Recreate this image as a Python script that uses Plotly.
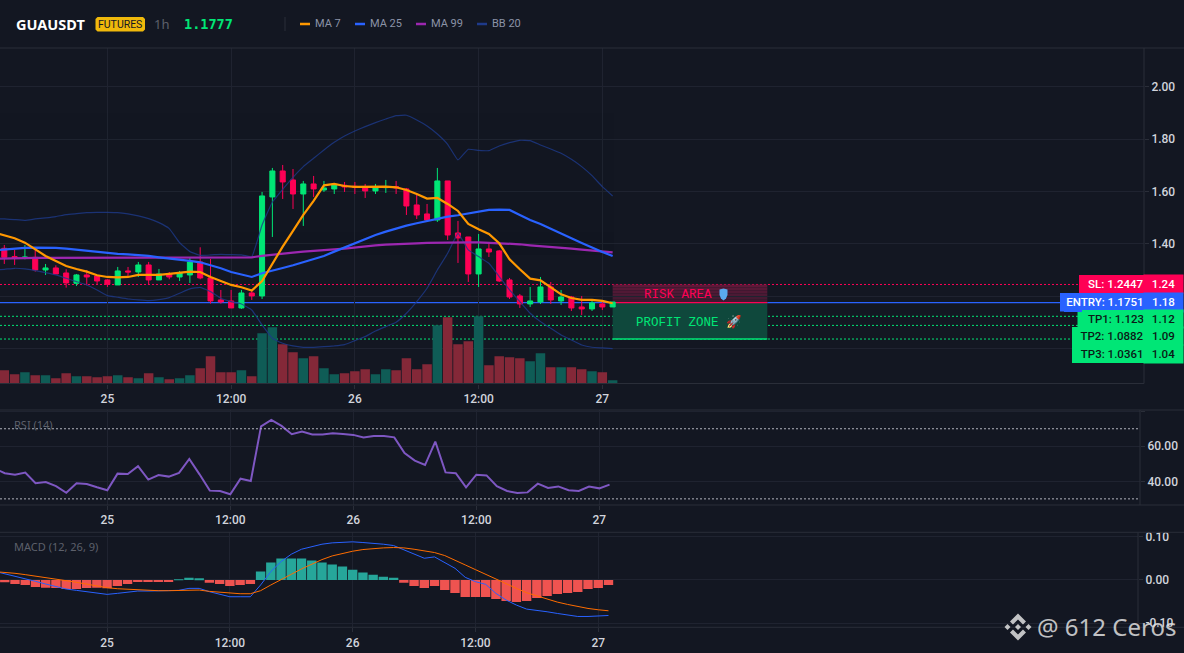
import pandas as pd
import plotly.graph_objects as go

W, H = 1184, 653

# hourly candles, the first time stamp sits just off the left edge (lines only)
times = pd.date_range("2025-06-24 13:00", periods=61, freq="h")
candle_times = times[1:]

opens = [1.3830, 1.3512, 1.3448, 1.3486, 1.3002, 1.3079, 1.2887, 1.2492, 1.2811, 1.2773,
         1.2620, 1.2429, 1.2964, 1.2925, 1.3193, 1.2620, 1.2849, 1.2734, 1.2811, 1.3308,
         1.2696, 1.1855, 1.1817, 1.1549, 1.2122, 1.2008, 1.5794, 1.6788, 1.6444, 1.5908,
         1.6291, 1.6061, 1.6100, 1.6240, 1.6202, 1.6176, 1.6023, 1.6151, 1.6189, 1.6100,
         1.5488, 1.5144, 1.4914, 1.6406, 1.4417, 1.4264, 1.2849, 1.3805, 1.3729, 1.2620,
         1.2008, 1.1702, 1.1778, 1.2352, 1.1817, 1.1969, 1.1587, 1.1511, 1.1702, 1.1587]
highs = [1.3958, 1.3767, 1.3958, 1.3767, 1.3231, 1.3180, 1.3028, 1.2849, 1.3002, 1.2811,
         1.2645, 1.3117, 1.3117, 1.3308, 1.3308, 1.3040, 1.2925, 1.2964, 1.3461, 1.3869,
         1.3423, 1.2237, 1.2237, 1.2237, 1.2237, 1.5985, 1.6903, 1.7017, 1.6864, 1.6406,
         1.6597, 1.6406, 1.6291, 1.6367, 1.6367, 1.6291, 1.6291, 1.6444, 1.6406, 1.6138,
         1.5870, 1.5526, 1.6903, 1.6406, 1.4876, 1.4264, 1.4379, 1.3996, 1.3767, 1.2696,
         1.2084, 1.2352, 1.2734, 1.2543, 1.2237, 1.2008, 1.2008, 1.1817, 1.1817, 1.1778]
lows = [1.3231, 1.3193, 1.3410, 1.2938, 1.2811, 1.2849, 1.2326, 1.2390, 1.2416, 1.2467,
        1.2352, 1.2429, 1.2773, 1.2734, 1.2454, 1.2620, 1.2645, 1.2581, 1.2505, 1.2645,
        1.1715, 1.1715, 1.1549, 1.1511, 1.1855, 1.1893, 1.4264, 1.5717, 1.5335, 1.4685,
        1.5794, 1.5985, 1.5908, 1.5985, 1.5908, 1.5755, 1.5908, 1.5947, 1.5908, 1.5105,
        1.4952, 1.4838, 1.4838, 1.4149, 1.3270, 1.2543, 1.2352, 1.3499, 1.2543, 1.1893,
        1.1549, 1.1587, 1.1702, 1.1702, 1.1664, 1.1434, 1.1281, 1.1434, 1.1472, 1.1587]
closes = [1.3486, 1.3461, 1.3499, 1.3002, 1.3079, 1.2849, 1.2505, 1.2811, 1.2734, 1.2581,
          1.2454, 1.2964, 1.2925, 1.3193, 1.2620, 1.2849, 1.2734, 1.2887, 1.3308, 1.2696,
          1.1817, 1.1778, 1.1549, 1.2122, 1.2008, 1.5832, 1.6788, 1.6367, 1.5908, 1.6291,
          1.6100, 1.6138, 1.6253, 1.6176, 1.6163, 1.6023, 1.6138, 1.6189, 1.6138, 1.5449,
          1.5105, 1.4914, 1.6406, 1.4340, 1.4226, 1.2849, 1.3805, 1.3690, 1.2581, 1.1969,
          1.1702, 1.1817, 1.2352, 1.1855, 1.1969, 1.1549, 1.1511, 1.1740, 1.1587, 1.1777]
volumes = [40, 28, 34, 25, 25, 16, 31, 22, 22, 19, 22, 25, 19, 16, 31, 19, 13, 16, 25, 46,
           82, 34, 34, 40, 22, 151, 169, 118, 94, 76, 82, 46, 28, 31, 37, 43, 28, 43, 40, 76,
           43, 58, 175, 199, 118, 127, 202, 55, 82, 79, 76, 67, 91, 49, 49, 49, 43, 37, 34, 10]

ma7 = [1.4443, 1.4341, 1.4213, 1.4047, 1.3805, 1.3538, 1.3346, 1.3155, 1.3040, 1.2938, 1.2798,
       1.2734, 1.2722, 1.2734, 1.2811, 1.2811, 1.2811, 1.2849, 1.2887, 1.2938, 1.2925,
       1.2734, 1.2581, 1.2429, 1.2339, 1.2212, 1.2581, 1.3257, 1.3894, 1.4493, 1.5105,
       1.5641, 1.6240, 1.6291, 1.6214, 1.6176, 1.6189, 1.6189, 1.6189, 1.6163, 1.6061,
       1.5908, 1.5730, 1.5755, 1.5526, 1.5258, 1.4761, 1.4557, 1.4379, 1.4022, 1.3410,
       1.3028, 1.2671, 1.2607, 1.2339, 1.2071, 1.1931, 1.1855, 1.1855, 1.1817, 1.1727]
ma25 = [1.3754, 1.3792, 1.3818, 1.3843, 1.3856, 1.3856, 1.3843, 1.3818, 1.3780, 1.3741, 1.3690,
        1.3639, 1.3614, 1.3601, 1.3576, 1.3538, 1.3486, 1.3448, 1.3397, 1.3346, 1.3295,
        1.3193, 1.3066, 1.2925, 1.2836, 1.2734, 1.2875, 1.2989, 1.3079, 1.3180, 1.3295,
        1.3410, 1.3538, 1.3703, 1.3869, 1.4035, 1.4188, 1.4341, 1.4468, 1.4595, 1.4698,
        1.4787, 1.4876, 1.4978, 1.5042, 1.5093, 1.5169, 1.5233, 1.5297, 1.5309, 1.5297,
        1.5105, 1.4914, 1.4761, 1.4570, 1.4404, 1.4213, 1.4035, 1.3856, 1.3690, 1.3538]
ma99 = [1.3435, 1.3448, 1.3448, 1.3461, 1.3461, 1.3461, 1.3461, 1.3461, 1.3461, 1.3461, 1.3461,
        1.3461, 1.3461, 1.3461, 1.3461, 1.3461, 1.3461, 1.3473, 1.3473, 1.3473, 1.3473,
        1.3486, 1.3486, 1.3486, 1.3486, 1.3486, 1.3538, 1.3589, 1.3627, 1.3665, 1.3703,
        1.3741, 1.3754, 1.3792, 1.3818, 1.3869, 1.3907, 1.3945, 1.3971, 1.3996, 1.4009,
        1.4022, 1.4035, 1.4047, 1.4060, 1.4060, 1.4060, 1.4060, 1.4047, 1.4035, 1.4009,
        1.3984, 1.3945, 1.3920, 1.3881, 1.3856, 1.3818, 1.3780, 1.3754, 1.3716, 1.3678]
bb_upper = [1.4965, 1.4952, 1.4927, 1.4901, 1.4952, 1.4991, 1.5042, 1.5118, 1.5156, 1.5195, 1.5207,
            1.5207, 1.5195, 1.5144, 1.5067, 1.4965, 1.4812, 1.4583, 1.4047, 1.3703, 1.3563,
            1.3576, 1.3601, 1.3589, 1.3576, 1.3512, 1.4723, 1.5600, 1.6087, 1.6546, 1.6954,
            1.7272, 1.7591, 1.7884, 1.8126, 1.8318, 1.8483, 1.8636, 1.8776, 1.8904, 1.8917,
            1.8738, 1.8509, 1.8203, 1.7808, 1.7209, 1.7616, 1.7578, 1.7565, 1.7744, 1.7871,
            1.7961, 1.7948, 1.7782, 1.7629, 1.7464, 1.7234, 1.6954, 1.6609, 1.6189, 1.5832]
bb_lower = [1.3002, 1.3028, 1.3066, 1.3040, 1.2977, 1.2900, 1.2811, 1.2683, 1.2556, 1.2429, 1.2237,
            1.2021, 1.1957, 1.1893, 1.1855, 1.1829, 1.1868, 1.1944, 1.2110, 1.2276, 1.2339,
            1.2174, 1.1919, 1.1791, 1.1702, 1.1472, 1.0899, 1.0389, 1.0198, 1.0096, 1.0045,
            1.0045, 1.0070, 1.0096, 1.0147, 1.0300, 1.0453, 1.0670, 1.0835, 1.1001, 1.1345,
            1.1791, 1.2301, 1.3002, 1.3639, 1.4404, 1.3767, 1.3512, 1.3257, 1.2747, 1.2237,
            1.1791, 1.1345, 1.1026, 1.0771, 1.0516, 1.0325, 1.0134, 1.0045, 1.0019, 0.9994]

rsi = [47.4, 44.6, 43.8, 45.0, 38.9, 39.6, 37.3, 33.5, 38.9, 38.5, 36.6,
       34.9, 44.4, 44.2, 48.6, 41.0, 43.6, 42.7, 44.8, 52.8, 44.0,
       34.7, 34.5, 32.6, 41.5, 40.2, 71.4, 75.0, 71.6, 66.9, 68.4,
       66.7, 66.7, 67.4, 67.0, 66.5, 65.0, 65.9, 65.9, 65.1, 56.2,
       51.8, 49.3, 62.7, 45.1, 44.6, 36.6, 43.8, 43.4, 37.3, 34.5,
       33.3, 33.7, 38.7, 36.2, 37.1, 34.9, 34.5, 37.0, 36.0, 38.1]

macd = [0.0202, 0.0147, 0.0078, 0.0031, -0.0031, -0.0093, -0.0147, -0.0209, -0.0240, -0.0271, -0.0302,
        -0.0333, -0.0310, -0.0279, -0.0256, -0.0256, -0.0256, -0.0256, -0.0240, -0.0194, -0.0194,
        -0.0271, -0.0333, -0.0388, -0.0388, -0.0388, -0.0116, 0.0194, 0.0426, 0.0597, 0.0713,
        0.0775, 0.0829, 0.0860, 0.0876, 0.0884, 0.0868, 0.0853, 0.0829, 0.0798, 0.0698,
        0.0597, 0.0504, 0.0535, 0.0403, 0.0271, 0.0062, -0.0039, -0.0101, -0.0310, -0.0465,
        -0.0581, -0.0674, -0.0698, -0.0736, -0.0775, -0.0814, -0.0845, -0.0845, -0.0837, -0.0822]
signal = [0.0194, 0.0178, 0.0155, 0.0124, 0.0093, 0.0062, 0.0023, -0.0016, -0.0054, -0.0101, -0.0140,
          -0.0178, -0.0202, -0.0217, -0.0233, -0.0240, -0.0248, -0.0248, -0.0240, -0.0233, -0.0233,
          -0.0264, -0.0287, -0.0302, -0.0318, -0.0318, -0.0248, -0.0116, 0.0, 0.0132, 0.0256,
          0.0372, 0.0473, 0.0558, 0.0620, 0.0667, 0.0705, 0.0729, 0.0744, 0.0752, 0.0744,
          0.0713, 0.0674, 0.0636, 0.0566, 0.0465, 0.0349, 0.0240, 0.0132, 0.0023, -0.0101,
          -0.0194, -0.0295, -0.0372, -0.0442, -0.0512, -0.0566, -0.0620, -0.0659, -0.0690, -0.0713]
hist = [-0.0054, -0.0093, -0.0116, -0.0163, -0.0178, -0.0186, -0.0209, -0.0209, -0.0186, -0.0178,
        -0.0194, -0.0140, -0.0093, -0.0047, -0.0047, -0.0047, -0.0047, 0.0016, 0.0054, 0.0031,
        -0.0062, -0.0093, -0.0140, -0.0116, -0.0093, 0.0194, 0.0403, 0.0496, 0.0496, 0.0496,
        0.0450, 0.0403, 0.0357, 0.0310, 0.0240, 0.0171, 0.0124, 0.0078, 0.0054, -0.0062,
        -0.0140, -0.0186, -0.0140, -0.0233, -0.0302, -0.0395, -0.0395, -0.0395, -0.0442, -0.0488,
        -0.0512, -0.0488, -0.0419, -0.0372, -0.0326, -0.0302, -0.0279, -0.0209, -0.0186, -0.0116]

symbol = "GUAUSDT"
last_price = "1.1777"
legend_names = ["MA 7", "MA 25", "MA 99", "BB 20"]
legend_colors = ["#ff9800", "#2962ff", "#9c27b0", "#1e3a8a"]
level_names = ["SL: 1.2447", "ENTRY: 1.1751", "TP1: 1.123", "TP2: 1.0882", "TP3: 1.0361"]
level_values = [1.2447, 1.1751, 1.123, 1.0882, 1.0361]
level_axis_text = ["1.24", "1.18", "1.12", "1.09", "1.04"]
price_ticks = [1.00, 1.20, 1.40, 1.60, 1.80, 2.00]
x_ticks = ["2025-06-25 00:00", "2025-06-25 12:00", "2025-06-26 00:00", "2025-06-26 12:00", "2025-06-27 00:00"]
x_tick_text = ["25", "12:00", "26", "12:00", "27"]

BG = "#131722"
GRID = "#1f2330"
LINE = "#2a2e39"
TICK = "#d1d4dc"
GREEN = "#00e676"
RED = "#ff0055"
FONT = "Roboto"


def px(x):
    return x / W


def py(y):
    return 1 - y / H


def poly(points, cx, cy):
    parts = [f"{px(cx + a):.5f},{py(cy + b):.5f}" for a, b in points]
    return "M" + " L".join(parts) + " Z"


fig = go.Figure()

vol_colors = ["#0f5c56" if c >= o else "#842838" for o, c in zip(opens, closes)]
fig.add_trace(go.Bar(x=candle_times, y=volumes, marker_color=vol_colors, marker_line_width=0,
                     xaxis="x", yaxis="y"))

fig.add_trace(go.Scatter(x=times, y=bb_upper, mode="lines", line=dict(color="#1e3a8a", width=1.2, shape="spline", smoothing=0.3),
                         opacity=0.8, xaxis="x", yaxis="y2"))
fig.add_trace(go.Scatter(x=times, y=bb_lower, mode="lines", line=dict(color="#1e3a8a", width=1.2, shape="spline", smoothing=0.3),
                         opacity=0.8, xaxis="x", yaxis="y2"))
fig.add_trace(go.Candlestick(x=candle_times, open=opens, high=highs, low=lows, close=closes,
                             increasing=dict(line=dict(color=GREEN, width=1), fillcolor=GREEN),
                             decreasing=dict(line=dict(color=RED, width=1), fillcolor=RED),
                             whiskerwidth=0, xaxis="x", yaxis="y2"))
fig.add_trace(go.Scatter(x=times, y=ma99, mode="lines", line=dict(color="#9c27b0", width=2.2), xaxis="x", yaxis="y2"))
fig.add_trace(go.Scatter(x=times, y=ma25, mode="lines", line=dict(color="#2962ff", width=2.2), xaxis="x", yaxis="y2"))
fig.add_trace(go.Scatter(x=times, y=ma7, mode="lines", line=dict(color="#ff9800", width=2.2), xaxis="x", yaxis="y2"))

fig.add_trace(go.Scatter(x=times, y=rsi, mode="lines", line=dict(color="#7e57c2", width=2), xaxis="x2", yaxis="y3"))

hist_colors = ["#26a69a" if v >= 0 else "#ef5350" for v in hist]
fig.add_trace(go.Bar(x=candle_times, y=hist, marker_color=hist_colors, marker_line_width=0, xaxis="x3", yaxis="y4"))
fig.add_trace(go.Scatter(x=times, y=macd, mode="lines", line=dict(color="#2962ff", width=1), xaxis="x3", yaxis="y4"))
fig.add_trace(go.Scatter(x=times, y=signal, mode="lines", line=dict(color="#ff6d00", width=1), xaxis="x3", yaxis="y4"))

shapes = []
annotations = []

# level lines
level_colors = [RED, "#2962ff", GREEN, GREEN, GREEN]
for i, v in enumerate(level_values):
    shapes.append(dict(type="line", xref="x domain", yref="y2", x0=0, x1=1, y0=v, y1=v, layer="below",
                       line=dict(color=level_colors[i], width=1.2 if i == 1 else 1, dash="solid" if i == 1 else "2px,2px")))

# risk / profit boxes
box_x0 = candle_times[-1]
box_x1 = candle_times[-1] + pd.Timedelta(hours=15)
risk_steps = ["#5e1838", "#571937", "#511935", "#4b1a34", "#451a32", "#3f1a31"]
risk_top, entry = level_values[0], level_values[1]
for i, c in enumerate(risk_steps):
    step = (risk_top - entry) / len(risk_steps)
    shapes.append(dict(type="rect", xref="x", yref="y2", x0=box_x0, x1=box_x1, y0=risk_top - step * (i + 1), y1=risk_top - step * i,
                       fillcolor=c, line_width=0, layer="below"))
shapes.append(dict(type="rect", xref="x", yref="y2", x0=box_x0, x1=box_x1, y0=level_values[4], y1=level_values[1],
                   fillcolor="#0f483c", line_width=0, layer="below"))
shapes.append(dict(type="line", xref="x", yref="y2", x0=box_x0, x1=box_x1, y0=level_values[1], y1=level_values[1],
                   line=dict(color=RED, width=1.2), layer="below"))
shapes.append(dict(type="line", xref="x", yref="y2", x0=box_x0, x1=box_x1, y0=level_values[4], y1=level_values[4],
                   line=dict(color=GREEN, width=1.5), layer="below"))
annotations.append(dict(xref="paper", yref="paper", x=px(678), y=py(294.5), text="RISK AREA", showarrow=False,
                        font=dict(family="Liberation Mono", size=12.5, color=RED)))
annotations.append(dict(xref="paper", yref="paper", x=px(689), y=py(321.5), text="PROFIT ZONE 🚀", showarrow=False,
                        font=dict(family="Liberation Mono", size=12.5, color=GREEN)))
# blue shield next to the risk label
shield = [(-4, -5.5), (0, -6.5), (4, -5.5), (4, 0), (2.5, 3.5), (0, 5.5), (-2.5, 3.5), (-4, 0)]
shapes.append(dict(type="path", xref="paper", yref="paper", path=poly(shield, 723.5, 295), fillcolor="#5aa9ee", line_width=0))

# RSI guides
for v in [70, 30]:
    shapes.append(dict(type="line", xref="x2 domain", yref="y3", x0=0, x1=1, y0=v, y1=v,
                       line=dict(color="#b2b5be", width=1, dash="2px,2px")))

# pane borders
for y in [48, 383.5, 410, 505, 532.3, 627.3]:
    shapes.append(dict(type="line", xref="paper", yref="paper", x0=0, x1=px(1144 if y == 383.5 else W),
                       y0=py(y), y1=py(y), line=dict(color=LINE, width=1)))
for x, y0, y1 in [(1144, 48, 383.5), (1140, 410, 505), (1138, 532.3, 627.3)]:
    shapes.append(dict(type="line", xref="paper", yref="paper", x0=px(x), x1=px(x), y0=py(y0), y1=py(y1),
                       line=dict(color=LINE, width=1)))

# price tags on the right
tag_boxes = [(1079, 275, 293), (1060, 293, 311.5), (1077.5, 310, 327.5), (1072, 327, 345), (1072, 345, 363)]
tag_fill = [RED, "#2962ff", GREEN, GREEN, GREEN]
tag_text = ["#ffffff", "#ffffff", "#0b1a16", "#0b1a16", "#0b1a16"]
for i, (x0, y0, y1) in enumerate(tag_boxes):
    annotations.append(dict(xref="paper", yref="paper", x=px(1143.5), y=py((y0 + y1) / 2), xanchor="right", yanchor="middle",
                            width=1143.5 - x0 - 4, height=y1 - y0, bgcolor=tag_fill[i], borderpad=0, borderwidth=0, showarrow=False,
                            text=level_names[i], align="right",
                            font=dict(family=FONT, size=11.5, weight=500, color=tag_text[i])))
    annotations.append(dict(xref="paper", yref="paper", x=px(1184), y=py((y0 + y1) / 2), xanchor="right", yanchor="middle",
                            width=39, height=y1 - y0, bgcolor=tag_fill[i], borderpad=0, showarrow=False,
                            text=level_axis_text[i], align="center",
                            font=dict(family=FONT, size=11.5, weight=500, color=tag_text[i])))
for i, v in enumerate(level_values):
    yy = (tag_boxes[i][1] + tag_boxes[i][2]) / 2
    shapes.append(dict(type="line", xref="paper", yref="paper", x0=px(1145), x1=px(1149), y0=py(yy), y1=py(yy),
                       line=dict(color="#ffffff" if i < 2 else "#0b1a16", width=1)))
    shapes.append(dict(type="rect", xref="paper", yref="paper", x0=px(tag_boxes[i][0]), x1=px(1143.5),
                       y0=py(tag_boxes[i][1]), y1=py(tag_boxes[i][2]), fillcolor=tag_fill[i], line_width=0))


def text(x, y, s, size, color, family=FONT, anchor="left", bold=False):
    # annotations keep 1px of pad plus a border, so pull them back by that much
    dx = -2 if anchor == "left" else 0
    annotations.append(dict(xref="paper", yref="paper", x=px(x + dx), y=py(y), xanchor=anchor, yanchor="middle", showarrow=False,
                            text=f"<b>{s}</b>" if bold else s, font=dict(family=family, size=size, color=color)))


# header
text(16, 24, symbol, 14.5, "#ffffff", family="Noto Sans", bold=True)
badge = [(2, 0), (47.5, 0), (49.5, 2), (49.5, 12.5), (47.5, 14.5), (2, 14.5), (0, 12.5), (0, 2)]
shapes.append(dict(type="path", xref="paper", yref="paper", path=poly(badge, 95.5, 17), fillcolor="#f0b90b", line_width=0))
text(120.2, 24.5, "FUTURES", 10.5, "#131722", family="Roboto", anchor="center")
text(154, 24, "1h", 13, "#5d606b", family="Noto Sans")
text(184, 24, last_price, 13.5, GREEN, family="DejaVu Sans Mono", bold=True)
shapes.append(dict(type="line", xref="paper", yref="paper", x0=px(285), x1=px(285), y0=py(17), y1=py(31),
                   line=dict(color=LINE, width=1)))
for name, color, x in zip(legend_names, legend_colors, [300, 355, 416, 477]):
    shapes.append(dict(type="line", xref="paper", yref="paper", x0=px(x), x1=px(x + 10), y0=py(24), y1=py(24),
                       line=dict(color=color, width=2.5)))
    text(x + 15, 23.5, name, 11, "#8b93a7", family=FONT)

text(14, 424, "RSI (14)", 11, "#5d606b", family="Noto Sans")
text(14, 546, "MACD (12, 26, 9)", 11, "#5d606b", family="Noto Sans")

# watermark with the diamond logo
wm = "rgba(225,225,225,0.85)"
text(1037, 626, "@ 612 Ceros", 24, wm, family="Noto Sans")
chevron_top = [(0, -13.5), (8, -5.5), (5, -2.5), (0, -7.5), (-5, -2.5), (-8, -5.5)]
chevron_bot = [(a, -b) for a, b in chevron_top]
diamond = [(0, -3), (3, 0), (0, 3), (-3, 0)]
for pts, dx in [(chevron_top, 0), (chevron_bot, 0), (diamond, 0), (diamond, -10.5), (diamond, 10.5)]:
    shapes.append(dict(type="path", xref="paper", yref="paper", path=poly(pts, 1018 + dx, 627),
                       fillcolor=wm, line_width=0))

main_range = ["2025-06-24 13:35", "2025-06-29 04:32"]
sub_range = ["2025-06-24 13:32", "2025-06-29 04:45"]
tick_font = dict(family=FONT, size=12, weight=500, color=TICK)
common_x = dict(type="date", tickmode="array", tickvals=x_ticks, ticktext=x_tick_text, showgrid=True, gridcolor=GRID,
                gridwidth=1, zeroline=False, showline=False, ticks="outside", ticklen=4, tickcolor=LINE, tickfont=tick_font,
                rangeslider=dict(visible=False))
common_y = dict(side="right", showgrid=True, gridcolor=GRID, gridwidth=1, zeroline=False, showline=False,
                ticks="outside", ticklen=4, tickcolor=LINE, tickfont=tick_font)

fig.update_layout(
    width=W, height=H, margin=dict(l=0, r=0, t=0, b=0, autoexpand=False), paper_bgcolor=BG, plot_bgcolor=BG, showlegend=False,
    bargap=0.08, boxgap=0.3, hovermode=False, font=dict(family=FONT),
    shapes=shapes, annotations=annotations,
    xaxis=dict(common_x, domain=[0, 1144 / W], range=main_range, anchor="y"),
    yaxis=dict(domain=[py(383.5), py(48)], range=[0, 1006], visible=False, fixedrange=True),
    yaxis2=dict(common_y, domain=[py(383.5), py(48)], overlaying="y", anchor="x", range=[0.866, 2.149],
                tickmode="array", tickvals=price_ticks, ticktext=[f"{v:.2f}" for v in price_ticks]),
    xaxis2=dict(common_x, domain=[0, 1140 / W], range=sub_range, anchor="y3"),
    yaxis3=dict(common_y, domain=[py(505), py(410)], anchor="x2", range=[26.5, 80.7],
                tickmode="array", tickvals=[40, 60, 80], ticktext=["40.00", "60.00", ""]),
    xaxis3=dict(common_x, domain=[0, 1138 / W], range=sub_range, anchor="y4"),
    yaxis4=dict(common_y, domain=[py(627.3), py(532.3)], anchor="x3", range=[-0.1096, 0.1105],
                tickmode="array", tickvals=[-0.1, 0, 0.1], ticktext=["-0.10", "0.00", "0.10"]),
)

fig.write_html("out.html", config={"displayModeBar": False},
               post_script="document.body.style.margin='0';document.body.style.overflow='hidden';")
